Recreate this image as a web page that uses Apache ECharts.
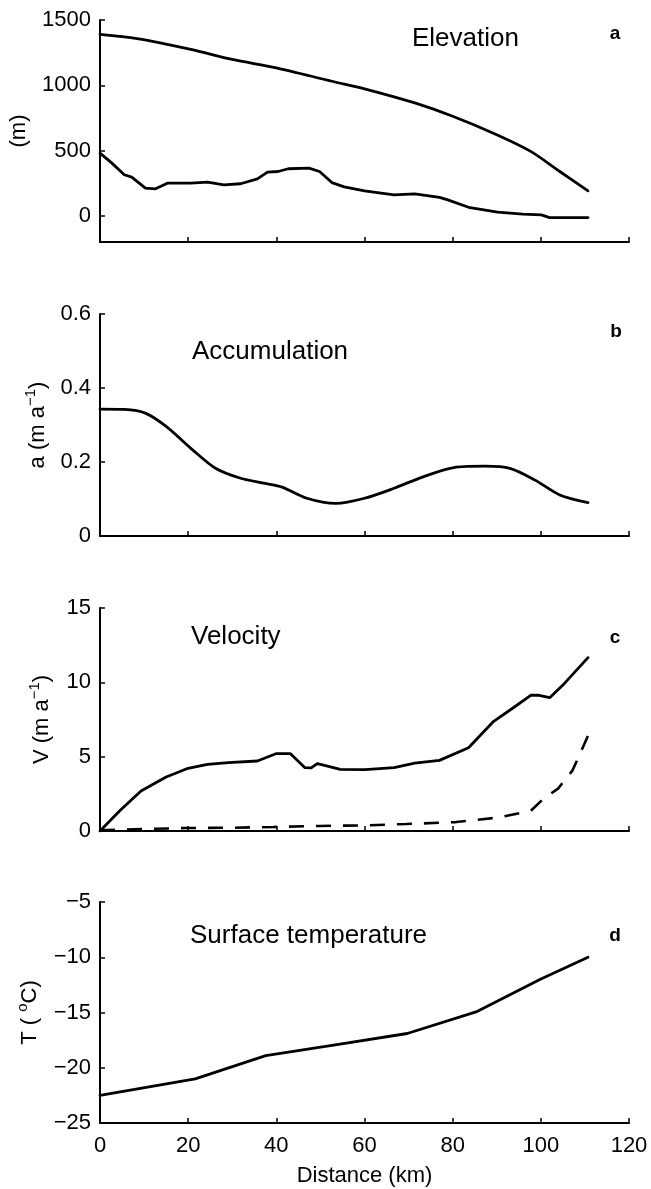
<!DOCTYPE html>
<html><head><meta charset="utf-8">
<script src="https://cdn.jsdelivr.net/npm/echarts@6/dist/echarts.min.js"></script>
<style>html,body{margin:0;padding:0;background:#fff}#c{width:651px;height:1189px}</style>
</head><body><div id="c"></div>
<script>
// Panel a: Elevation (m)
const distSurf = [0, 8.4, 20.6, 30, 40, 52.6, 60, 71.4, 80, 90, 97.7, 104.3, 110.7];
const surf = [1390, 1357, 1275, 1198, 1134, 1031, 973, 865, 763, 622, 494, 340, 192];
const distBed = [0, 2.7, 5.5, 7.2, 10.3, 12.6, 15.4, 20.6, 24.4, 28.1, 31.9, 35.7, 38, 40.4, 42.7, 47.4, 49.8, 52.6, 55.4, 60, 66.7, 71.4, 77, 78.9, 83.6, 90.2, 95.9, 100.1, 102, 110.7];
const bed = [481, 404, 315, 297, 212, 207, 251, 251, 258, 238, 246, 284, 335, 340, 361, 366, 340, 255, 222, 192, 161, 168, 141, 123, 66, 28, 13, 8, -13, -13];
// Panel b: Accumulation (m a-1)
const distAcc = [0, 5.5, 10.3, 15, 20.6, 26.2, 31.9, 37.5, 41.3, 46.9, 53.5, 60, 66.7, 73.3, 80.8, 87.4, 93, 98.7, 104.3, 110.7];
const acc = [0.343, 0.342, 0.332, 0.296, 0.237, 0.183, 0.156, 0.142, 0.132, 0.102, 0.088, 0.102, 0.129, 0.160, 0.186, 0.189, 0.183, 0.151, 0.111, 0.090];
// Panel c: Velocity (m a-1)
const distVel = [0, 4.6, 9.3, 15, 19.7, 24.4, 29.1, 35.7, 39.9, 43.2, 46.5, 47.9, 49.3, 51.6, 54.5, 60.1, 66.7, 71.4, 77, 83.6, 89.3, 94, 97.7, 99.6, 102, 105.3, 110.7];
const vel = [0, 1.39, 2.69, 3.63, 4.19, 4.48, 4.6, 4.71, 5.2, 5.2, 4.26, 4.24, 4.53, 4.37, 4.15, 4.13, 4.26, 4.57, 4.75, 5.6, 7.38, 8.34, 9.13, 9.13, 8.97, 9.91, 11.66];
const distSlide = [0, 9.3, 19.7, 30, 39.4, 49.8, 60.1, 69.5, 80.8, 90.2, 97.7, 100.6, 103.9, 107.2, 110.7];
const slide = [0.05, 0.13, 0.2, 0.22, 0.27, 0.34, 0.38, 0.47, 0.6, 0.9, 1.35, 2.17, 2.85, 4.08, 6.4];
// Panel d: Surface temperature (°C)
const distT = [0, 21.6, 37.6, 53, 69.7, 85.3, 99.9, 110.7];
const temp = [-22.5, -21.0, -18.9, -17.95, -16.9, -14.95, -12.0, -10.0];
// Tick values
const ticksA = [0, 500, 1000, 1500];

const FONT = '"Liberation Sans", Arial, Helvetica, sans-serif';
const pair = (xs, ys) => xs.map((x, i) => [x, ys[i]]);
const fmt = v => String(Math.round(v * 100) / 100).replace('-', '\u2212');

const grids = [
  {left: 100, right: 22, top: 20, height: 222},
  {left: 100, right: 22, top: 314, height: 222},
  {left: 100, right: 22, top: 608, height: 223},
  {left: 100, right: 22, top: 902, height: 221}
];
const axLine = {onZero: false, lineStyle: {color: '#000', width: 2}};
const axTick = {inside: true, length: 5, lineStyle: {color: '#000', width: 1.5}};
const labStyle = {color: '#000', fontSize: 22, fontFamily: FONT};
const nameStyle = {
  color: '#000', fontSize: 22, fontFamily: FONT,
  rich: {
    n: {color: '#000', fontSize: 22, fontFamily: FONT},
    s: {color: '#000', fontSize: 15, fontFamily: FONT, padding: [0, 0, 15, 0]}
  }
};

const xAxes = grids.map((g, i) => ({
  type: 'value', gridIndex: i, min: 0, max: 120, interval: 20,
  axisLine: axLine, axisTick: axTick,
  axisLabel: Object.assign({show: i === 3, margin: 12, formatter: fmt}, labStyle),
  splitLine: {show: false},
  name: i === 3 ? 'Distance (km)' : '', nameLocation: 'middle', nameGap: 42,
  nameTextStyle: {color: '#000', fontSize: 22, fontFamily: FONT}
}));

const yBase = (i) => ({
  type: 'value', gridIndex: i, nameLocation: 'middle',
  axisLine: axLine, axisTick: axTick,
  axisLabel: Object.assign({margin: 9, formatter: fmt}, labStyle),
  splitLine: {show: false}, nameTextStyle: nameStyle
});
const yAxes = [
  Object.assign(yBase(0), {min: -200, max: 1500, name: '(m)', nameGap: 70,
    axisTick: Object.assign({customValues: ticksA}, axTick),
    axisLabel: Object.assign({margin: 9, formatter: fmt, customValues: ticksA}, labStyle)}),
  Object.assign(yBase(1), {min: 0, max: 0.6, interval: 0.2, nameGap: 47,
    name: '{n|a (m a}{s|\u22121}{n|)}'}),
  Object.assign(yBase(2), {min: 0, max: 15, interval: 5, nameGap: 43,
    name: '{n|V (m a}{s|\u22121}{n|)}'}),
  Object.assign(yBase(3), {min: -25, max: -5, interval: 5, nameGap: 55,
    name: '{n|T ( }{s|o}{n|C)}'})
];

const line = (gi, xs, ys, extra) => Object.assign({
  type: 'line', xAxisIndex: gi, yAxisIndex: gi, data: pair(xs, ys),
  symbol: 'none', showSymbol: false, animation: false,
  lineStyle: {color: '#000', width: 2.8, join: 'round', cap: 'round'}
}, extra || {});

const letter = (txt, x, y) => ({type: 'text', x: x, y: y,
  style: {text: txt, fontSize: 19, fontWeight: 'bold', fontFamily: FONT, fill: '#000', align: 'center', verticalAlign: 'middle'}});

const option = {
  backgroundColor: '#fff',
  animation: false,
  grid: grids,
  xAxis: xAxes,
  yAxis: yAxes,
  series: [
    line(0, distSurf, surf, {smooth: 0.3}),
    line(0, distBed, bed),
    line(1, distAcc, acc, {smooth: 0.3}),
    line(2, distVel, vel),
    line(2, distSlide, slide, {lineStyle: {color: '#000', width: 2.6, type: [15, 12]}}),
    line(3, distT, temp)
  ],
  graphic: [
    {type: 'text', x: 412, y: 39, style: {text: 'Elevation', fontSize: 26, fontFamily: FONT, fill: '#000', verticalAlign: 'middle'}},
    {type: 'text', x: 192, y: 352, style: {text: 'Accumulation', fontSize: 26, fontFamily: FONT, fill: '#000', verticalAlign: 'middle'}},
    {type: 'text', x: 191, y: 637, style: {text: 'Velocity', fontSize: 26, fontFamily: FONT, fill: '#000', verticalAlign: 'middle'}},
    {type: 'text', x: 190, y: 936, style: {text: 'Surface temperature', fontSize: 26, fontFamily: FONT, fill: '#000', verticalAlign: 'middle'}},
    letter('a', 615, 34),
    letter('b', 616, 332),
    letter('c', 615, 638),
    letter('d', 615, 936)
  ]
};
const chart = echarts.init(document.getElementById('c'), null, {renderer: 'canvas'});
chart.setOption(option);
</script>
</body></html>
